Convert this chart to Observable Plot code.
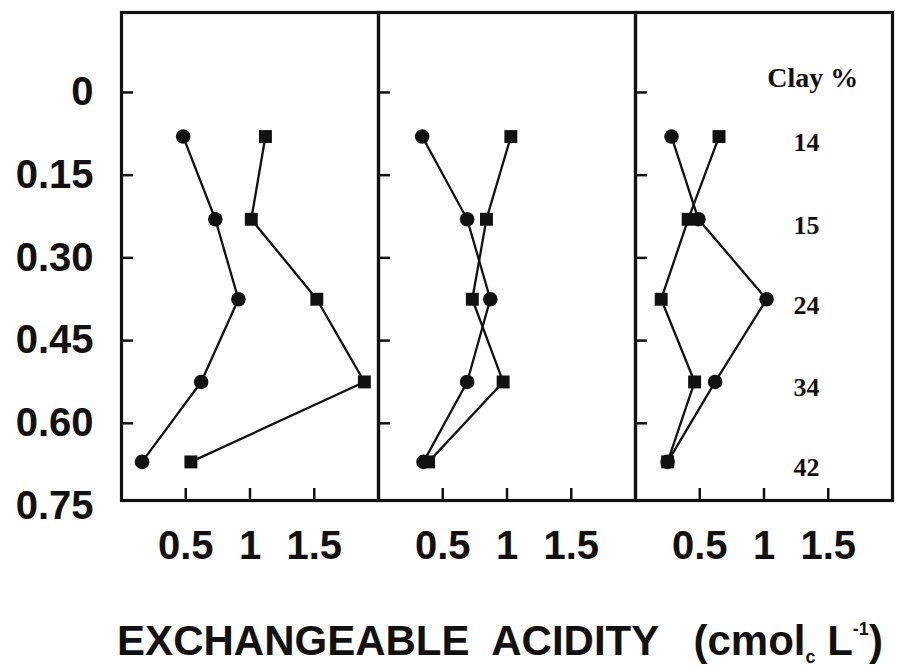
<!DOCTYPE html>
<html>
<head>
<meta charset="utf-8">
<script src="https://cdn.jsdelivr.net/npm/d3@7"></script>
<script src="https://cdn.jsdelivr.net/npm/@observablehq/plot@0.6"></script>
<style>
  html, body { margin: 0; padding: 0; background: #fff; }
  #wrap { position: relative; width: 898px; height: 667px; overflow: hidden; }
  #chart { position: absolute; left: 0; top: 0; }
  #title {
    position: absolute; left: 102px; width: 796px; top: 619px;
    text-align: center; white-space: pre;
    font-family: "Liberation Sans", Arial, sans-serif; font-weight: bold;
    font-size: 42px; line-height: 44px; color: #111;
  }
  #title .sub { font-size: 18px; position: relative; top: 8px; }
  #title .sup { font-size: 18px; position: relative; top: -20px; }
</style>
</head>
<body>
<div id="wrap">
  <div id="chart"></div>
  <div id="title">EXCHANGEABLE  ACIDITY   (cmol<span class="sub">c</span> L<span class="sup">-1</span>)</div>
</div>
<script>
// Depth of each sampled layer (m)
const depths = [0.08, 0.23, 0.375, 0.525, 0.67];
const panels = ["A", "B", "C"];
// Exchangeable acidity per panel, circles and squares
const panelACircle = [0.48, 0.73, 0.91, 0.62, 0.16];
const panelASquare = [1.12, 1.01, 1.52, 1.89, 0.54];
const panelBCircle = [0.34, 0.69, 0.87, 0.69, 0.35];
const panelBSquare = [1.03, 0.84, 0.73, 0.97, 0.39];
const panelCCircle = [0.28, 0.49, 1.02, 0.62, 0.25];
const panelCSquare = [0.65, 0.41, 0.20, 0.46, 0.25];
// Clay % per layer
const clayPct = [14, 15, 24, 34, 42];
const clayHeader = "Clay %";
// Axis ticks
const xTicks = [0.5, 1, 1.5];
const yTicks = [0, 0.15, 0.30, 0.45, 0.60, 0.75];
const yTickLabels = ["0", "0.15", "0.30", "0.45", "0.60", "0.75"];

const seriesSets = [
  ["A", "circle", panelACircle], ["A", "square", panelASquare],
  ["B", "circle", panelBCircle], ["B", "square", panelBSquare],
  ["C", "circle", panelCCircle], ["C", "square", panelCSquare]
];
const rows = [];
for (const [panel, symbol, vals] of seriesSets) {
  vals.forEach((v, i) => rows.push({panel, symbol, series: panel + symbol, depth: depths[i], value: v}));
}
const clayRows = clayPct.map((c, i) => ({panel: "C", depth: depths[i], label: String(c)}));
const headerRows = [{panel: "C", depth: -0.027, label: clayHeader}];
const clayX = 1.33;

const chart = Plot.plot({
  width: 898,
  height: 580,
  marginLeft: 120,
  marginRight: 6,
  marginTop: 12,
  marginBottom: 80,
  style: {fontFamily: "'Liberation Sans', Arial, sans-serif", fontWeight: "bold", fontSize: "40px", color: "#111", background: "#fff"},
  fx: {domain: panels, padding: 0, axis: null},
  x: {domain: [0, 2]},
  y: {domain: [-0.145, 0.74], reverse: true},
  marks: [
    Plot.frame({stroke: "#111", strokeWidth: 3.2}),
    Plot.axisY({ticks: yTicks.slice(0, 5), tickSize: -12, text: null, facetAnchor: null, strokeWidth: 2.5, label: null}),
    Plot.axisY({ticks: yTicks, tickSize: 0, tickPadding: 28, tickFormat: (d, i) => yTickLabels[i], label: null, fontSize: 40}),
    Plot.axisX({ticks: xTicks, tickSize: -12, text: null, strokeWidth: 2.5, label: null}),
    Plot.axisX({ticks: xTicks, tickSize: 0, tickPadding: 30, tickFormat: d => String(d), label: null, fontSize: 40}),
    Plot.line(rows, {x: "value", y: "depth", z: "series", fx: "panel", stroke: "#111", strokeWidth: 2.3}),
    Plot.dot(rows, {x: "value", y: "depth", fx: "panel", symbol: "symbol", fill: "#111", stroke: "none", r: 7.3}),
    Plot.text(clayRows, {x: () => clayX, y: "depth", fx: "panel", text: "label", dy: 6, fontFamily: "'Liberation Serif', 'Times New Roman', serif", fontWeight: "bold", fontSize: 26, fill: "#111"}),
    Plot.text(headerRows, {x: () => clayX + 0.05, y: "depth", fx: "panel", text: "label", fontFamily: "'Liberation Serif', 'Times New Roman', serif", fontWeight: "bold", fontSize: 28, fill: "#111"})
  ]
});
document.getElementById("chart").appendChild(chart);
</script>
</body>
</html>
